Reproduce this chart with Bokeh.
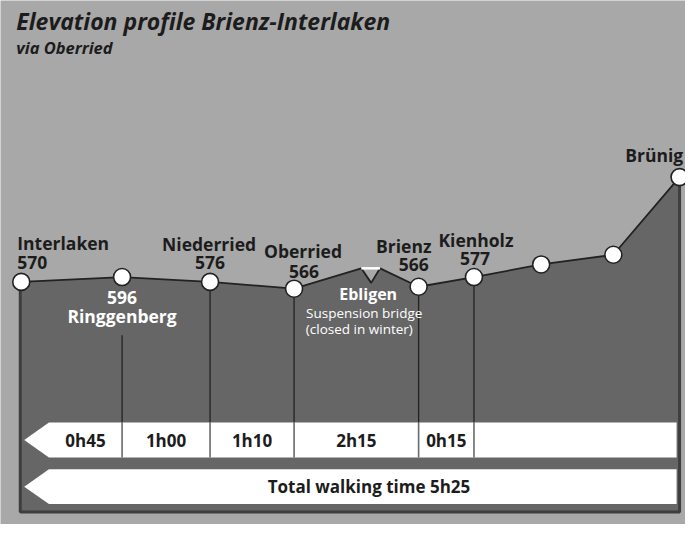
from bokeh.plotting import figure
from bokeh.models import Range1d, ColumnDataSource
from bokeh.core.properties import value
from bokeh.embed import file_html
from bokeh.resources import INLINE

# ---------------- data (schematic profile) ----------------
title = "Elevation profile Brienz-Interlaken"
subtitle = "via Oberried"

stops = ["Interlaken", "Ringgenberg", "Niederried", "Oberried", "Brienz",
         "Kienholz", "", "", "Brünig"]
elevations = ["570", "596", "576", "566", "566", "577", "", "", ""]
route_pos = [21, 123, 212, 297, 423, 479, 547, 620, 687]      # position along route (schematic)
profile_h = [237, 242, 237, 230, 232, 242, 255, 265, 345]     # drawn profile height (schematic)

bridge_name = "Ebligen"
bridge_note = ["Suspension bridge", "(closed in winter)"]
bridge_pos = [365, 375, 384]
bridge_h = [251, 236, 251]

legs = ["0h45", "1h00", "1h10", "2h15", "0h15"]
total_label = "Total walking time  5h25"

# ---------------- styling / layout ----------------
FONT = value("Open Sans")
BG = "#a8a8a8"
DARK = "#666666"
FRAME = "#3e3e3e"
INK = "#1c1c1c"

p = figure(width=685, height=524, x_range=Range1d(0, 693), y_range=Range1d(-13, 527),
           output_backend="svg", toolbar_location=None, min_border=0)
p.axis.visible = False
p.grid.visible = False
p.outline_line_color = None
p.background_fill_color = BG
p.border_fill_color = BG

# profile incl. the bridge notch after Oberried
prof_x = route_pos[:4] + bridge_pos + route_pos[4:]
prof_y = profile_h[:4] + bridge_h + profile_h[4:]

left_x = route_pos[0] - 1
right_x = route_pos[-1]
area_x = prof_x + [right_x, left_x, left_x]
area_y = prof_y + [0, 0, profile_h[0]]
p.patch(area_x, area_y, fill_color=DARK, line_color=None)

# frame (left, bottom, right)
p.line([left_x, left_x, right_x, right_x], [profile_h[0], 0, 0, profile_h[-1]],
       line_color=FRAME, line_width=3)

# walking-time bands (arrows pointing left)
band_top, band_bot = 92, 56
band2_top, band2_bot = 44, 8
tip_x, body_x, end_x = 24, 49, 684
p.patch([tip_x, body_x, end_x, end_x, body_x],
        [(band_top + band_bot) / 2, band_top, band_top, band_bot, band_bot],
        fill_color="white", line_color=None)
p.patch([tip_x, body_x, end_x, end_x, body_x],
        [(band2_top + band2_bot) / 2, band2_top, band2_top, band2_bot, band2_bot],
        fill_color="white", line_color=None)

# vertical drop lines from the stops
vx, vy0, vy1 = [], [], []
for i in range(1, 6):
    vx.append(route_pos[i])
    vy0.append(profile_h[i] if i != 1 else profile_h[i] - 60)
    vy1.append(band_top)
p.segment(x0=vx, y0=vy0, x1=vx, y1=vy1, line_color="#222222", line_width=1.3)
p.segment(x0=vx, y0=[band_top] * 5, x1=vx, y1=[band_bot] * 5, line_color="#6a6a6a", line_width=1.6)

# profile line
p.line(prof_x, prof_y, line_color="#222222", line_width=1.8)
# bridge deck
p.line(bridge_pos[::2], bridge_h[::2], line_color="white", line_width=2.5)

# stop circles
p.scatter(route_pos, profile_h, size=17, fill_color="white", line_color="#222222", line_width=1.6)

# leg time labels
bounds = [body_x] + route_pos[1:6]
leg_x = [(bounds[i] + bounds[i + 1]) / 2 for i in range(len(legs))]
p.text(x=leg_x, y=[(band_top + band_bot) / 2] * len(legs), text=legs,
       text_align="center", text_baseline="middle", text_font=FONT,
       text_font_size="17px", text_font_style="bold", text_color=INK)
p.text(x=[375], y=[(band2_top + band2_bot) / 2], text=[total_label],
       text_align="center", text_baseline="middle", text_font=FONT,
       text_font_size="17px", text_font_style="bold", text_color=INK)

# stop names and elevations
name_dx = [-4, 0, -1, 9, -15, 2, 0, 0, -55]
name_dy = [40, -40, 39, 39, 42, 38, 0, 0, 23]
elev_dx = [-4, 0, 0, 10, -5, 1, 0, 0, 0]
elev_dy = [20, -21, 20, 18, 23, 19, 0, 0, 0]
aligns = ["left", "center", "center", "center", "center", "center", "center", "center", "left"]
colors = [INK, "white", INK, INK, INK, INK, INK, INK, INK]
src = ColumnDataSource(dict(
    nx=[route_pos[i] + name_dx[i] for i in range(len(stops))],
    ny=[profile_h[i] + name_dy[i] for i in range(len(stops))],
    ex=[route_pos[i] + elev_dx[i] for i in range(len(stops))],
    ey=[profile_h[i] + elev_dy[i] for i in range(len(stops))],
    name=stops, elev=elevations, align=aligns, color=colors))
p.text(x="nx", y="ny", text="name", source=src, text_align="align", text_baseline="middle",
       text_font=FONT, text_font_size="17.5px", text_font_style="bold", text_color="color")
p.text(x="ex", y="ey", text="elev", source=src, text_align="align", text_baseline="middle",
       text_font=FONT, text_font_size="17.5px", text_font_style="bold", text_color="color")

# bridge annotation
p.text(x=[bridge_pos[1] - 3], y=[bridge_h[1] - 11], text=[bridge_name], text_align="center",
       text_baseline="middle", text_font=FONT, text_font_size="16px", text_font_style="bold",
       text_color="white")
p.text(x=[bridge_pos[1] - 7, bridge_pos[1] - 12], y=[bridge_h[1] - 31, bridge_h[1] - 48],
       text=bridge_note, text_align="center", text_baseline="middle", text_font=FONT,
       text_font_size="13.5px", text_font_style="normal", text_color="white")

# title
p.text(x=[16], y=[506], text=[title], text_align="left", text_baseline="middle",
       text_font=FONT, text_font_size="23px", text_font_style="bold italic", text_color=INK)
p.text(x=[16], y=[479], text=[subtitle], text_align="left", text_baseline="middle",
       text_font=FONT, text_font_size="16.5px", text_font_style="bold italic", text_color=INK)

open("out.html", "w").write(file_html(p, INLINE))
